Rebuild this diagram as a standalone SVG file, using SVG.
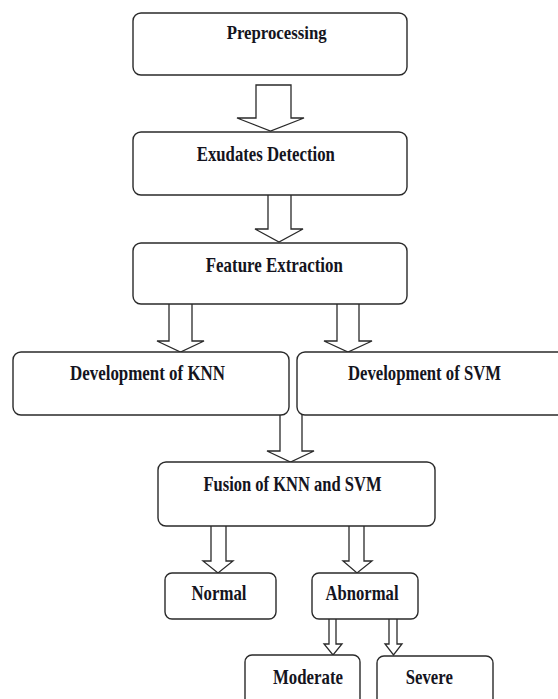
<svg xmlns="http://www.w3.org/2000/svg" width="558" height="699" viewBox="0 0 558 699">
<style>
.box{fill:#fff;stroke:#2a2a2a;stroke-width:1.4}
.arr{fill:#fff;stroke:#2a2a2a;stroke-width:1.3;stroke-linejoin:miter}
.t{font-family:"Liberation Serif","Times New Roman",serif;font-weight:bold;fill:#141420;text-anchor:middle}
</style>
<rect width="558" height="699" fill="#fff"/>
<g id="connectors">
<path class="arr" d="M256,85 V118 H237 L270.5,131 L304,118 H291 V85 Z"/>
<path class="arr" d="M268,195 V229 H255 L279,242 L303,229 H291 V195"/>
<path class="arr" d="M169,304 V341 H157 L180.5,352 L204,341 H192 V304"/>
<path class="arr" d="M337,304 V341 H324 L348,352 L372,341 H359 V304"/>
<path class="arr" d="M280,415 V451 H267 L290.5,462 L314,451 H302 V415"/>
<path class="arr" d="M211,526 V561 H203 L218,573 L233,561 H226 V526"/>
<path class="arr" d="M349,526 V561 H343 L357,573 L372,561 H364 V526"/>
<path class="arr" d="M329,619 V644 H324 L333,655 L342,644 H336 V619"/>
<path class="arr" d="M389,619 V644 H385 L393.5,655 L402,644 H397 V619"/>
</g>
<g id="preprocessing"><rect class="box" x="133" y="13" width="274" height="62" rx="8"/><text class="t" x="276.7" y="39" font-size="19" textLength="100" lengthAdjust="spacingAndGlyphs">Preprocessing</text></g>
<g id="exudates"><rect class="box" x="133" y="132" width="274" height="63" rx="8"/><text class="t" x="265.8" y="161" font-size="21" textLength="138" lengthAdjust="spacingAndGlyphs">Exudates Detection</text></g>
<g id="feature"><rect class="box" x="133" y="243" width="274" height="61" rx="8"/><text class="t" x="274.3" y="272" font-size="21" textLength="137" lengthAdjust="spacingAndGlyphs">Feature Extraction</text></g>
<g id="knn"><rect class="box" x="13" y="352" width="276" height="63" rx="8"/><text class="t" x="147.5" y="380" font-size="20" textLength="155" lengthAdjust="spacingAndGlyphs">Development of KNN</text></g>
<g id="svm"><rect class="box" x="297" y="352" width="280" height="63" rx="8"/><text class="t" x="424.5" y="380" font-size="20" textLength="153" lengthAdjust="spacingAndGlyphs">Development of SVM</text></g>
<g id="fusion"><rect class="box" x="158" y="462" width="277" height="64" rx="8"/><text class="t" x="292.5" y="491" font-size="21" textLength="178" lengthAdjust="spacingAndGlyphs">Fusion of KNN and SVM</text></g>
<g id="normal"><rect class="box" x="165" y="573" width="111" height="46" rx="7"/><text class="t" x="219" y="600" font-size="22" textLength="55" lengthAdjust="spacingAndGlyphs">Normal</text></g>
<g id="abnormal"><rect class="box" x="312" y="573" width="106" height="46" rx="7"/><text class="t" x="362" y="600" font-size="22" textLength="73" lengthAdjust="spacingAndGlyphs">Abnormal</text></g>
<g id="moderate"><rect class="box" x="245" y="655" width="115" height="60" rx="7"/><text class="t" x="308" y="684" font-size="21" textLength="70" lengthAdjust="spacingAndGlyphs">Moderate</text></g>
<g id="severe"><rect class="box" x="377" y="656" width="116" height="60" rx="7"/><text class="t" x="429.3" y="684" font-size="21" textLength="47" lengthAdjust="spacingAndGlyphs">Severe</text></g>
</svg>
